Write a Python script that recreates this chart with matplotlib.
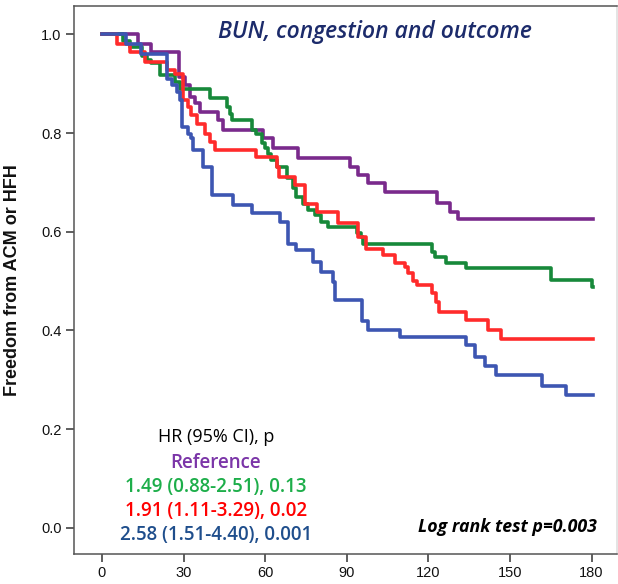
import matplotlib
matplotlib.use("Agg")
import matplotlib.pyplot as plt

# Kaplan-Meier step data (days, survival)
purple_t = [0, 13.3, 18.2, 28.4, 30.5, 32.3, 34.2, 36, 42.7, 44.6, 59.3, 62.9,
            72.1, 91.1, 94.2, 97.8, 104, 123, 127.8, 130.9, 180.5]
purple_s = [1.0, 0.981, 0.964, 0.914, 0.897, 0.873, 0.860, 0.843, 0.826, 0.806, 0.789, 0.769,
            0.750, 0.731, 0.715, 0.698, 0.681, 0.659, 0.640, 0.625, 0.625]

green_t = [0, 7.8, 10.3, 14.6, 16.4, 18.2, 21.3, 26.8, 28.7, 39.7, 45.9, 47.1, 47.7,
           55.0, 56.8, 58.7, 59.9, 61.1, 62.3, 64.2, 67.9, 70.3, 71.5, 74, 75.8, 78.3,
           80.7, 83.1, 93.6, 95.4, 96, 121.5, 122.3, 126.6, 134, 165.2, 180, 180.5]
green_s = [1.0, 0.987, 0.974, 0.957, 0.947, 0.941, 0.917, 0.903, 0.890, 0.870, 0.853, 0.839, 0.826,
           0.806, 0.799, 0.779, 0.769, 0.758, 0.745, 0.731, 0.708, 0.688, 0.671, 0.657, 0.644, 0.634,
           0.620, 0.610, 0.597, 0.590, 0.576, 0.559, 0.548, 0.537, 0.526, 0.502, 0.488, 0.488]

red_t = [0, 5.4, 10.3, 15.8, 23.8, 26.8, 29.9, 31.7, 32.9, 34.8, 37.8, 39.7, 41.5,
         56.8, 64.2, 65.0, 70.9, 74.6, 78.9, 86.8, 94.2, 97.2, 103.3, 107.6, 111.3,
         112.5, 114.4, 116, 121.5, 122.7, 123.9, 134, 141.9, 146.8, 180.5]
red_s = [1.0, 0.981, 0.964, 0.944, 0.927, 0.920, 0.866, 0.853, 0.836, 0.819, 0.799, 0.782, 0.765,
         0.752, 0.731, 0.711, 0.694, 0.657, 0.640, 0.617, 0.590, 0.566, 0.553, 0.536, 0.529,
         0.516, 0.500, 0.492, 0.475, 0.458, 0.438, 0.421, 0.401, 0.382, 0.382]

blue_t = [0, 9, 14.3, 23.8, 25.6, 27.4, 28.7, 29.3, 31.7, 32.9, 33.6, 37.2, 40.3,
          48.2, 55.0, 65.4, 68.5, 71.5, 77.6, 80.7, 85.0, 85.6, 95.5, 97.7, 109.5,
          134, 137, 140.7, 144.7, 161.9, 170.7, 180.5]
blue_s = [1.0, 0.980, 0.961, 0.910, 0.897, 0.883, 0.866, 0.812, 0.799, 0.789, 0.765, 0.731, 0.674,
          0.654, 0.637, 0.620, 0.576, 0.563, 0.539, 0.519, 0.499, 0.462, 0.420, 0.400, 0.386,
          0.370, 0.347, 0.328, 0.310, 0.287, 0.269, 0.269]

hr_lines = ["Reference", "1.49 (0.88-2.51), 0.13", "1.91 (1.11-3.29), 0.02",
            "2.58 (1.51-4.40), 0.001"]

PURPLE = "#7A2A8C"
GREEN = "#17893A"
RED = "#FF2B2B"
BLUE = "#3D56B2"
NAVY = "#1C2B6B"
TXT_COLORS = ["#7B35A8", "#1DAE4A", "#FF0000", "#1F4E8C"]

fig = plt.figure(figsize=(6.18, 5.84), dpi=100, facecolor="white")
ax = fig.add_axes([0.1197, 0.0514, 0.878, 0.938])

lw = 2.6
ax.step(purple_t, purple_s, where="post", color=PURPLE, lw=lw)
ax.step(green_t, green_s, where="post", color=GREEN, lw=lw)
ax.step(red_t, red_s, where="post", color=RED, lw=lw)
ax.step(blue_t, blue_s, where="post", color=BLUE, lw=lw)

ax.set_xlim(-10.3, 189.2)
ax.set_ylim(-0.053, 1.057)
ax.set_xticks(range(0, 181, 30))
ax.set_yticks([0.0, 0.2, 0.4, 0.6, 0.8, 1.0])
ax.set_yticklabels(["0.0", "0.2", "0.4", "0.6", "0.8", "1.0"])
ax.tick_params(direction="out", length=6, width=1.1, color="#333333",
               labelsize=10.5, labelcolor="#111111", pad=3,
               labelfontfamily="Liberation Sans")
for sp in ax.spines.values():
    sp.set_color("#555555")
    sp.set_linewidth(1.1)
ax.spines["right"].set_color("#dddddd")

ax.set_ylabel("Freedom from ACM or HFH", fontsize=13, fontweight="bold",
              family="Liberation Sans", color="#111111")
ax.yaxis.set_label_coords(-0.097, 0.5)

ax.text(100.3, 1.004, "BUN, congestion and outcome", ha="center", va="center",
        fontsize=16.5, style="italic", fontweight="semibold", color=NAVY, family="Open Sans")

ax.text(41.9, 0.184, "HR (95% CI), p", ha="center", va="center", fontsize=13,
        color="black", family="Open Sans")
ys = [0.132, 0.083, 0.034, -0.014]
for txt, yy, c in zip(hr_lines, ys, TXT_COLORS):
    ax.text(41.9, yy, txt, ha="center", va="center", fontsize=13.5,
            fontweight="semibold", color=c, family="Open Sans")

ax.text(181.8, 0.002, "Log rank test p=0.003", ha="right", va="center", fontsize=12.8,
        style="italic", fontweight="bold", color="black", family="Open Sans")

fig.savefig("out.png", dpi=100, facecolor="white")
